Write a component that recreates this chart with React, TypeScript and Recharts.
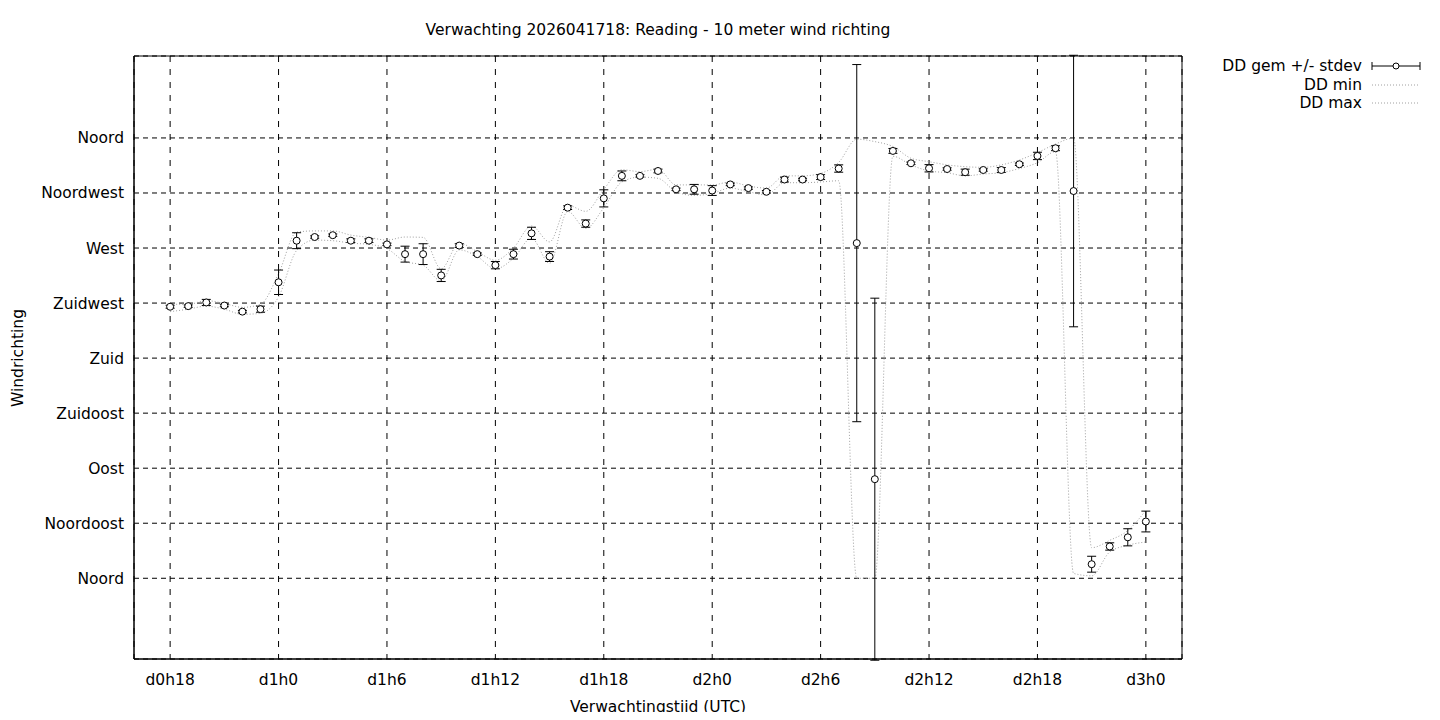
import React from 'react';
import {
  ComposedChart,
  Line,
  Scatter,
  ErrorBar,
  XAxis,
  YAxis,
  CartesianGrid,
  ReferenceArea,
  Legend,
} from 'recharts';

const hours = [
  18, 19, 20, 21, 22, 23, 24, 25, 26, 27, 28, 29, 30, 31, 32, 33, 34, 35, 36, 37,
  38, 39, 40, 41, 42, 43, 44, 45, 46, 47, 48, 49, 50, 51, 52, 53, 54, 55, 56, 57,
  58, 59, 60, 61, 62, 63, 64, 65, 66, 67, 68, 69, 70, 71, 72,
];

const meanDir = [
  222, 222.5, 225.5, 223, 218, 220, 242, 276, 279, 280.5, 276, 276, 273, 265, 265, 247.6, 272, 265, 256, 265,
  282, 263, 303, 290, 310.6, 329, 329, 333, 318, 318, 317, 322, 319, 316, 326, 326, 328, 335, 274, 81,
  349.4, 339.3, 335.2, 334.6, 332, 333.8, 333.8, 338.5, 345.3, 351.6, 316.6, 11.5, 26, 33.5, 46.4,
];

const stdevDir = [
  1.2, 1, 2.5, 1, 1, 2.5, 10, 6.5, 1, 1, 1.5, 1.5, 1, 6.5, 8.5, 5, 1.5, 1, 3, 4,
  5, 4, 1.5, 3, 7, 4, 1, 1.5, 1, 4, 4, 1, 1, 1, 2, 1, 2, 3, 146, 148,
  2, 1, 3, 1, 2.5, 1, 2, 1, 3, 2, 111, 6.5, 3, 7, 8.5,
];

const minDir = [
  218, 220, 222.5, 220, 215.8, 216.6, 230, 268, 276.5, 276, 274, 273, 269.5, 259, 256, 243, 268.5, 263, 253, 261.6,
  278, 257.5, 300, 286, 303, 324, 328, 327, 316, 313, 314.7, 319, 316, 313.4, 323.4, 323.4, 324, 325, 0, 0,
  345, 338, 333, 331.6, 329, 330.5, 331.6, 335, 339.8, 348.8, 4, 2, 21.5, 27, 29.7,
];

const maxDir = [
  224, 224, 227, 224.7, 221.5, 224, 249, 283, 284, 284, 280.6, 278.7, 276.5, 279, 278.7, 253, 274, 267, 260, 270,
  288, 275, 305, 300, 318, 334, 332.5, 334.4, 321.6, 321.6, 321.6, 324, 320.7, 319, 329, 329, 331, 340, 359, 357,
  353, 343.4, 340.6, 338, 336.5, 336, 338, 342, 348, 355, 359.8, 25, 31, 39, 55.6,
];

const xTicks = [18, 24, 30, 36, 42, 48, 54, 60, 66, 72];
const yTicks = [0, 45, 90, 135, 180, 225, 270, 315, 360];
const yTickLabels = ['Noord', 'Noordoost', 'Oost', 'Zuidoost', 'Zuid', 'Zuidwest', 'West', 'Noordwest', 'Noord'];

const titleText = 'Verwachting 2026041718: Reading - 10 meter wind richting';
const xLabelText = 'Verwachtingstijd (UTC)';
const yLabelText = 'Windrichting';
const legendLabels = ['DD gem +/- stdev', 'DD min', 'DD max'];

const data = hours.map((h, i) => ({
  h,
  mean: meanDir[i],
  sd: stdevDir[i],
  min: minDir[i],
  max: maxDir[i],
}));

const FONT = 'DejaVu Sans, sans-serif';
const FS = 15.5;
const DOT_GREY = '#a0a0a0';

const PointShape = (props: any) => {
  const { cx, cy } = props;
  if (cx == null || cy == null) return null;
  return <circle cx={cx} cy={cy} r={3.5} fill="#fff" stroke="#000" strokeWidth={1} />;
};

const hGrid = (p: any) => (
  <line key={p.key} x1={p.x1} y1={p.y1} x2={p.x2} y2={p.y2} stroke="#000" strokeWidth={1} strokeDasharray="5 4" fill="none" />
);
const vGrid = (p: any) => (
  <line key={p.key} x1={p.x1} y1={p.y1} x2={p.x2} y2={p.y2} stroke="#000" strokeWidth={1} strokeDasharray="6 7" fill="none" />
);

const LegendContent = () => {
  const rows = [10, 29, 47];
  const textX = 264;
  const x1 = 274;
  const x2 = 322;
  return (
    <svg width={330} height={60} style={{ overflow: 'visible', display: 'block' }}>
      {legendLabels.map((l, i) => (
        <text
          key={l}
          x={textX}
          y={rows[i]}
          textAnchor="end"
          dominantBaseline="central"
          fontFamily={FONT}
          fontSize={FS}
          fill="#000"
        >
          {l}
        </text>
      ))}
      <line x1={x1} x2={x2} y1={rows[0]} y2={rows[0]} stroke="#000" strokeWidth={1} />
      <line x1={x1} x2={x1} y1={rows[0] - 4} y2={rows[0] + 4} stroke="#000" strokeWidth={1} />
      <line x1={x2} x2={x2} y1={rows[0] - 4} y2={rows[0] + 4} stroke="#000" strokeWidth={1} />
      <circle cx={(x1 + x2) / 2} cy={rows[0]} r={3} fill="#fff" stroke="#000" strokeWidth={1} />
      <line x1={x1} x2={x2} y1={rows[1]} y2={rows[1]} stroke={DOT_GREY} strokeWidth={1} strokeDasharray="1 2" />
      <line x1={x1} x2={x2} y1={rows[2]} y2={rows[2]} stroke={DOT_GREY} strokeWidth={1} strokeDasharray="1 2" />
    </svg>
  );
};

const labelBase: React.CSSProperties = {
  position: 'absolute',
  lineHeight: '18px',
  fontSize: FS,
  textAlign: 'center',
  whiteSpace: 'nowrap',
  zIndex: 2,
};

export default function App() {
  return (
    <div
      style={{
        position: 'relative',
        width: 1424,
        height: 712,
        marginBottom: -8,
        fontFamily: FONT,
        color: '#000',
      }}
    >
      <ComposedChart
        width={1424}
        height={712}
        data={data}
        margin={{ top: 48, right: 250, bottom: 31, left: 0 }}
      >
        <CartesianGrid horizontal={hGrid} vertical={vGrid} />
        <XAxis
          dataKey="h"
          type="number"
          domain={[16, 74]}
          allowDataOverflow
          ticks={xTicks}
          interval={0}
          tickFormatter={(v: number) => `d${Math.floor(v / 24)}h${v % 24}`}
          tickLine={false}
          tickSize={0}
          tickMargin={15}
          height={30}
          axisLine={{ stroke: '#000' }}
          tick={{ fill: '#000', fontSize: FS, fontFamily: FONT }}
          label={{
            value: xLabelText,
            position: 'bottom',
            offset: 12,
            fill: '#000',
            fontSize: FS,
            fontFamily: FONT,
          }}
        />
        <YAxis
          type="number"
          domain={[-66, 427]}
          allowDataOverflow
          ticks={yTicks}
          interval={0}
          tickFormatter={(v: number) => yTickLabels[yTicks.indexOf(v)] ?? ''}
          tickLine={false}
          tickSize={0}
          tickMargin={10}
          width={126}
          axisLine={{ stroke: '#000' }}
          tick={{ fill: '#000', fontSize: FS, fontFamily: FONT }}
        />
        <ReferenceArea
          x1={16}
          x2={74}
          y1={-66}
          y2={427}
          fill="none"
          stroke="#000"
          strokeWidth={1}
          ifOverflow="visible"
        />
        <Line
          dataKey="min"
          type="monotone"
          stroke={DOT_GREY}
          strokeWidth={1}
          strokeDasharray="1 2"
          dot={false}
          activeDot={false}
          isAnimationActive={false}
        />
        <Line
          dataKey="max"
          type="monotone"
          stroke={DOT_GREY}
          strokeWidth={1}
          strokeDasharray="1 2"
          dot={false}
          activeDot={false}
          isAnimationActive={false}
        />
        <Scatter dataKey="mean" shape={PointShape} isAnimationActive={false}>
          <ErrorBar dataKey="sd" direction="y" width={4.5} stroke="#000" strokeWidth={1} isAnimationActive={false} />
        </Scatter>
        <Legend
          layout="vertical"
          align="center"
          verticalAlign="middle"
          content={() => <LegendContent />}
          wrapperStyle={{ position: 'absolute', left: 1090, top: 48, width: 330, height: 60 }}
        />
      </ComposedChart>
      <div style={{ ...labelBase, left: 0, width: 1300, top: 13 }}>{titleText}</div>
      <div
        style={{
          ...labelBase,
          left: -90,
          width: 200,
          top: 341,
          height: 18,
          transform: 'rotate(-90deg)',
        }}
      >
        {yLabelText}
      </div>
    </div>
  );
}
